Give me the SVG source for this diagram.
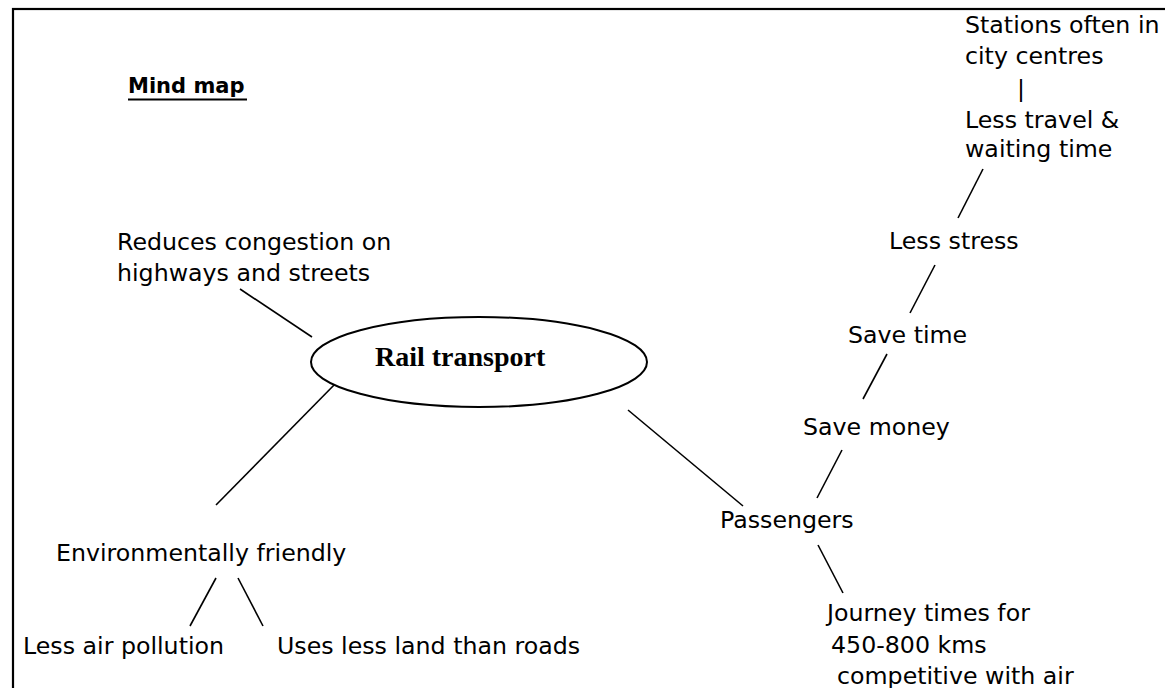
<svg xmlns="http://www.w3.org/2000/svg" width="1165" height="688" viewBox="0 0 1165 688">
  <style>
    .t { font-family: "DejaVu Sans", "Liberation Sans", sans-serif; font-size: 23.7px; fill: #000; }
    .title { font-family: "DejaVu Sans", "Liberation Sans", sans-serif; font-size: 21px; font-weight: bold; fill: #000; }
    .hub { font-family: "Liberation Serif", "Times New Roman", serif; font-size: 28px; font-weight: bold; fill: #000; }
    .ln { stroke: #000; stroke-width: 1.6; fill: none; }
  </style>
  <rect width="1165" height="688" fill="#fff"/>
  <!-- page frame -->
  <rect x="13" y="9" width="1200" height="720" fill="none" stroke="#000" stroke-width="2.2"/>

  <!-- heading with underline -->
  <text class="title" x="128" y="93">Mind map</text>
  <line x1="128" y1="99.5" x2="247" y2="99.5" stroke="#000" stroke-width="2"/>

  <g id="connectors">
    <line class="ln" x1="240" y1="289" x2="312" y2="337"/>
    <line class="ln" x1="338" y1="381" x2="216" y2="505"/>
    <line class="ln" x1="216" y1="578" x2="190" y2="626"/>
    <line class="ln" x1="238" y1="578" x2="263" y2="626"/>
    <line class="ln" x1="628" y1="410" x2="743" y2="506"/>
    <line class="ln" x1="818" y1="545" x2="843" y2="593"/>
    <line class="ln" x1="842" y1="450" x2="817" y2="498"/>
    <line class="ln" x1="887" y1="354" x2="863" y2="399"/>
    <line class="ln" x1="935" y1="265" x2="910" y2="313"/>
    <line class="ln" x1="983" y1="169" x2="958" y2="218"/>
  </g>

  <g id="rail-transport">
    <ellipse cx="479" cy="362" rx="168" ry="45" fill="#fff" stroke="#000" stroke-width="2"/>
    <text class="hub" x="375" y="366">Rail transport</text>
  </g>

  <g id="congestion">
    <text class="t" x="117" y="250">Reduces congestion on</text>
    <text class="t" x="117" y="281">highways and streets</text>
  </g>

  <g id="environment">
    <text class="t" x="56" y="561">Environmentally friendly</text>
  </g>
  <g id="air-pollution">
    <text class="t" x="23" y="654">Less air pollution</text>
  </g>
  <g id="less-land">
    <text class="t" x="277" y="654">Uses less land than roads</text>
  </g>

  <g id="passengers">
    <text class="t" x="720" y="528">Passengers</text>
  </g>
  <g id="journey-times">
    <text class="t" x="827" y="621">Journey times for</text>
    <text class="t" x="831" y="653">450-800 kms</text>
    <text class="t" x="837" y="684">competitive with air</text>
  </g>
  <g id="save-money">
    <text class="t" x="803" y="435">Save money</text>
  </g>
  <g id="save-time">
    <text class="t" x="848" y="343">Save time</text>
  </g>
  <g id="less-stress">
    <text class="t" x="889" y="249">Less stress</text>
  </g>
  <g id="less-travel">
    <text class="t" x="965" y="33">Stations often in</text>
    <text class="t" x="965" y="64">city centres</text>
    <text class="t" x="1017" y="97">|</text>
    <text class="t" x="965" y="128">Less travel &amp;</text>
    <text class="t" x="965" y="157">waiting time</text>
  </g>
</svg>
